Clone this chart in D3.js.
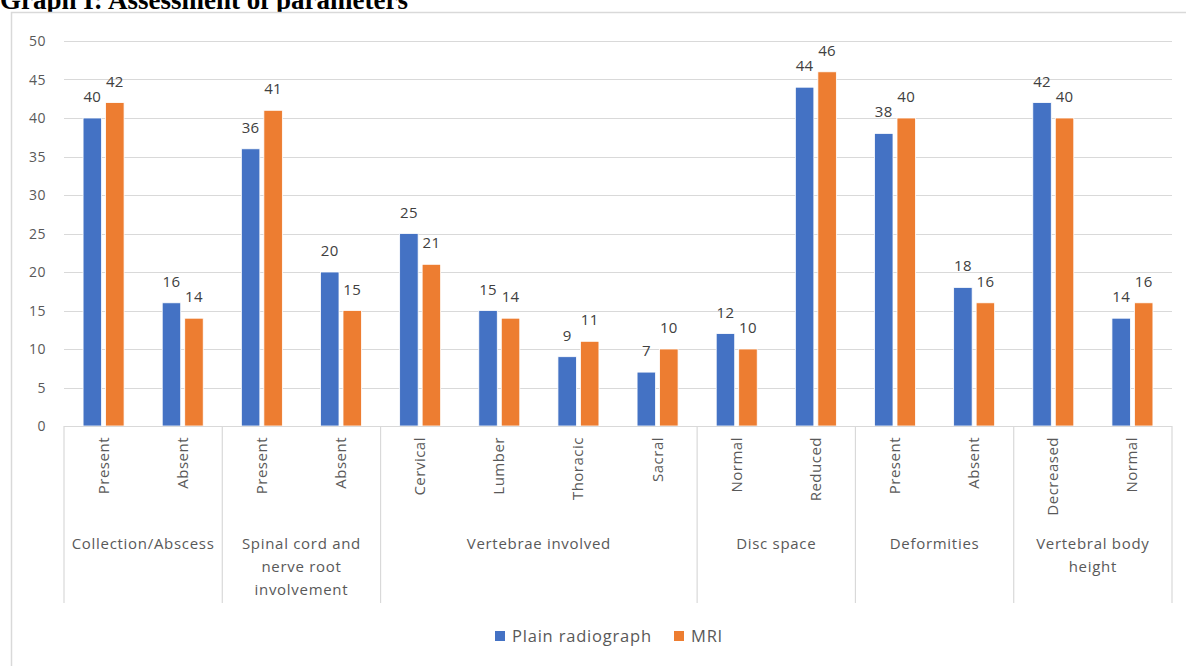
<!DOCTYPE html>
<html><head><meta charset="utf-8">
<script src="https://cdn.jsdelivr.net/npm/d3@7"></script>
<style>
body{margin:0;background:#fff;}
svg{display:block;}
</style></head>
<body>
<svg id="c" width="1186" height="666"></svg>
<script>
const groups = ["Collection/Abscess","Spinal cord and\nnerve root\ninvolvement","Vertebrae involved","Disc space","Deformities","Vertebral body\nheight"];
const groupSizes = [2,2,4,2,2,2];
const categories = ["Present","Absent","Present","Absent","Cervical","Lumber","Thoracic","Sacral","Normal","Reduced","Present","Absent","Decreased","Normal"];
const plainRadiograph = [40,16,36,20,25,15,9,7,12,44,38,18,42,14];
const mri = [42,14,41,15,21,14,11,10,10,46,40,16,40,16];
const seriesNames = ["Plain radiograph","MRI"];
const yTicks = [0,5,10,15,20,25,30,35,40,45,50];

const colors = ["#4472C4","#ED7D31"];
const txt = "#595959";
const font = "'Open Sans', 'Noto Sans', sans-serif";
const svg = d3.select("#c");

// title (partly cut off at top, as in the source image)
svg.append("text").attr("x",0).attr("y",9)
  .attr("font-family","'Liberation Serif','Times New Roman',serif").attr("font-weight","bold")
  .attr("font-size",27).attr("fill","#000").text("Graph I: Assessment of parameters");

// chart border
svg.append("rect").attr("x",11.5).attr("y",12.5).attr("width",1200).attr("height",700)
  .attr("fill","#fff").attr("stroke","#d9d9d9").attr("stroke-width",1.5);

const x0 = 64, x1 = 1172;
const x = d3.scaleBand().domain(d3.range(categories.length)).range([x0,x1]).padding(0);
const y = d3.scaleLinear().domain([0,50]).range([426,41]);

// gridlines
svg.append("g").selectAll("line").data(yTicks.filter(d=>d>0)).join("line")
  .attr("x1",x0).attr("x2",x1).attr("y1",d=>Math.round(y(d))+0.5).attr("y2",d=>Math.round(y(d))+0.5)
  .attr("stroke","#d9d9d9").attr("stroke-width",1);

// y axis labels
svg.append("g").selectAll("text").data(yTicks).join("text")
  .attr("x",46).attr("y",d=>y(d)+5).attr("text-anchor","end")
  .attr("font-family",font).attr("font-size",14).attr("letter-spacing",0.5).attr("fill",txt).text(d=>d);

// bars
const bw = 18.5, gap = 4;
const series = [plainRadiograph, mri];
series.forEach((vals,si)=>{
  const g = svg.append("g");
  g.selectAll("rect").data(vals).join("rect")
    .attr("x",(d,i)=>x(i)+x.bandwidth()/2 - (bw+gap/2) + si*(bw+gap))
    .attr("y",d=>y(d)).attr("width",bw).attr("height",d=>y(0)-y(d))
    .attr("fill",colors[si]).attr("stroke","#fff").attr("stroke-width",0.8);
  g.selectAll("text").data(vals).join("text")
    .attr("x",(d,i)=>x(i)+x.bandwidth()/2 - (bw+gap/2) + si*(bw+gap) + bw/2)
    .attr("y",d=>y(d)-16).attr("text-anchor","middle")
    .attr("font-family",font).attr("font-size",15).attr("letter-spacing",0.3).attr("fill","#404040").text(d=>d);
});

// category axis line
svg.append("line").attr("x1",x0).attr("x2",x1).attr("y1",426.5).attr("y2",426.5)
  .attr("stroke","#d9d9d9").attr("stroke-width",1.2);

// group separators
let bounds=[0]; groupSizes.forEach(s=>bounds.push(bounds[bounds.length-1]+s));
svg.append("g").selectAll("line").data(bounds).join("line")
  .attr("x1",d=>d<categories.length?x(d):x1).attr("x2",d=>d<categories.length?x(d):x1)
  .attr("y1",426).attr("y2",603).attr("stroke","#d9d9d9").attr("stroke-width",1.2);

// category labels (rotated)
svg.append("g").selectAll("text").data(categories).join("text")
  .attr("transform",(d,i)=>`translate(${x(i)+x.bandwidth()/2+5},437) rotate(-90)`)
  .attr("text-anchor","end").attr("font-family",font).attr("font-size",15).attr("letter-spacing",0.5)
  .attr("fill",txt).text(d=>d);

// group labels
groups.forEach((g,gi)=>{
  const a = bounds[gi], b = bounds[gi+1];
  const cx = (x(a) + (b<categories.length?x(b):x1))/2;
  const lines = g.split("\n");
  const t = svg.append("text").attr("text-anchor","middle").attr("font-family",font)
    .attr("font-size",15).attr("letter-spacing",0.7).attr("fill",txt);
  lines.forEach((ln,li)=>{
    t.append("tspan").attr("x",cx).attr("y",549+li*23).text(ln);
  });
});

// legend
const leg = svg.append("g");
const legX = [495,674];
seriesNames.forEach((n,i)=>{
  leg.append("rect").attr("x",legX[i]).attr("y",631).attr("width",10).attr("height",10).attr("fill",colors[i]);
  leg.append("text").attr("x",legX[i]+17).attr("y",642).attr("font-family",font)
    .attr("font-size",16.5).attr("letter-spacing",0.8).attr("fill",txt).text(n);
});
</script>
</body></html>
